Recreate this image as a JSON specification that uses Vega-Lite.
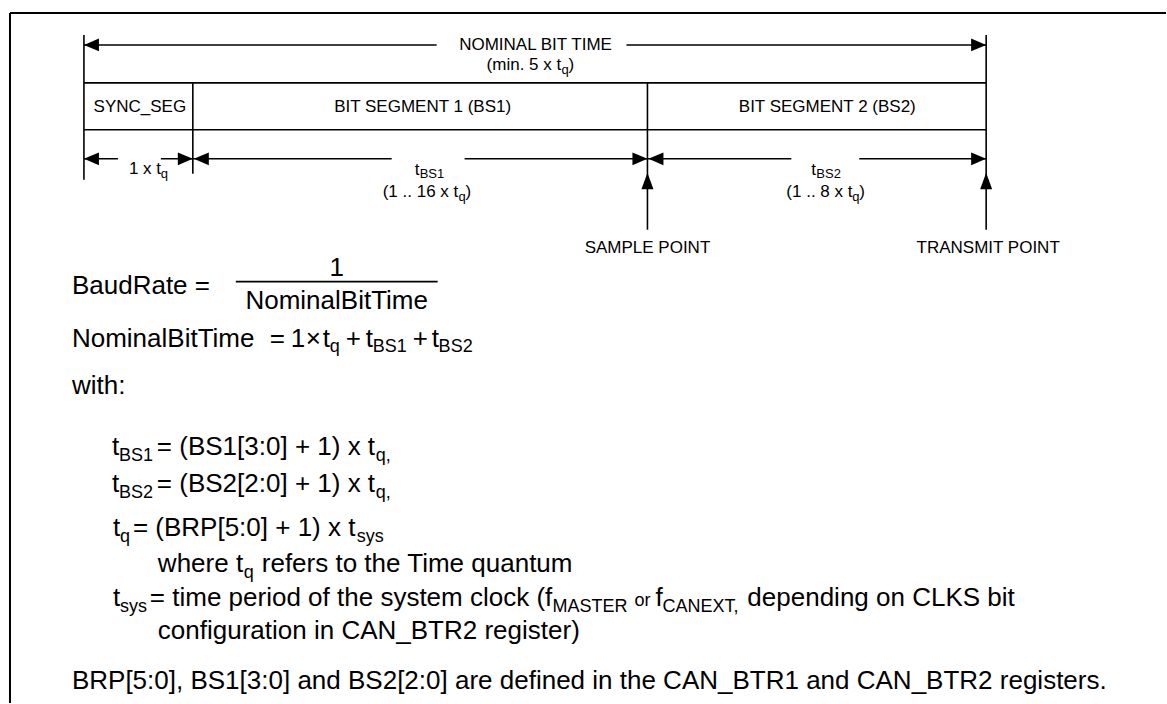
{
  "$schema": "https://vega.github.io/schema/vega-lite/v6.json",
  "width": 1167,
  "height": 704,
  "autosize": {"type": "fit", "contains": "padding"},
  "padding": 0,
  "background": "white",
  "config": {"view": {"stroke": null}},
  "datasets": {
    "frame": [
      {"x": 10, "y": 13, "x2": 1167, "y2": 13},
      {"x": 10, "y": 13, "x2": 10, "y2": 704}
    ],
    "lines": [
      {"x": 84, "y": 45, "x2": 437, "y2": 45},
      {"x": 627, "y": 45, "x2": 987, "y2": 45},
      {"x": 84, "y": 83, "x2": 987, "y2": 83},
      {"x": 84, "y": 130, "x2": 987, "y2": 130},
      {"x": 84, "y": 159, "x2": 118, "y2": 159},
      {"x": 161, "y": 159, "x2": 193, "y2": 159},
      {"x": 193, "y": 159, "x2": 392, "y2": 159},
      {"x": 465, "y": 159, "x2": 648, "y2": 159},
      {"x": 648, "y": 159, "x2": 792, "y2": 159},
      {"x": 860, "y": 159, "x2": 987, "y2": 159},
      {"x": 236, "y": 282, "x2": 438, "y2": 282},
      {"x": 84, "y": 35, "x2": 84, "y2": 180},
      {"x": 193, "y": 83, "x2": 193, "y2": 174},
      {"x": 648, "y": 83, "x2": 648, "y2": 230},
      {"x": 987, "y": 35, "x2": 987, "y2": 230}
    ],
    "arrowL": [
      {"x": 84, "y": 45},
      {"x": 84, "y": 159},
      {"x": 194, "y": 159},
      {"x": 649, "y": 159}
    ],
    "arrowR": [
      {"x": 987, "y": 45},
      {"x": 193, "y": 159},
      {"x": 648, "y": 159},
      {"x": 987, "y": 159}
    ],
    "arrowU": [
      {"x": 648, "y": 173},
      {"x": 987, "y": 173}
    ],
    "textM": [
      {"x": 72, "y": 294, "t": "BaudRate ="},
      {"x": 72, "y": 347, "t": "NominalBitTime"},
      {"x": 270, "y": 347, "t": "="},
      {"x": 291, "y": 347, "t": "1"},
      {"x": 306, "y": 347, "t": "×"},
      {"x": 323, "y": 347, "t": "t"},
      {"x": 346, "y": 347, "t": "+"},
      {"x": 366, "y": 347, "t": "t"},
      {"x": 413, "y": 347, "t": "+"},
      {"x": 432, "y": 347, "t": "t"},
      {"x": 72, "y": 395, "t": "with:"},
      {"x": 112, "y": 456, "t": "t"},
      {"x": 157, "y": 456, "t": "= (BS1[3:0] + 1) x t"},
      {"x": 112, "y": 493, "t": "t"},
      {"x": 157, "y": 493, "t": "= (BS2[2:0] + 1) x t"},
      {"x": 113, "y": 537, "t": "t"},
      {"x": 133, "y": 537, "t": "= (BRP[5:0] + 1) x t"},
      {"x": 158, "y": 573, "t": "where t"},
      {"x": 262, "y": 573, "t": "refers to the Time quantum"},
      {"x": 113, "y": 607, "t": "t"},
      {"x": 150, "y": 607, "t": "= time period of the system clock (f"},
      {"x": 656, "y": 607, "t": "f"},
      {"x": 748, "y": 607, "t": "depending on CLKS bit"},
      {"x": 158, "y": 640, "t": "configuration in CAN_BTR2 register)"},
      {"x": 72, "y": 690, "t": "BRP[5:0], BS1[3:0] and BS2[2:0] are defined in the CAN_BTR1 and CAN_BTR2 registers."}
    ],
    "textMC": [
      {"x": 337, "y": 276, "t": "1"},
      {"x": 337, "y": 309, "t": "NominalBitTime"}
    ],
    "textS": [
      {"x": 330, "y": 353, "t": "q"},
      {"x": 373, "y": 353, "t": "BS1"},
      {"x": 439, "y": 353, "t": "BS2"},
      {"x": 119, "y": 462, "t": "BS1"},
      {"x": 376, "y": 462, "t": "q,"},
      {"x": 119, "y": 499, "t": "BS2"},
      {"x": 376, "y": 499, "t": "q,"},
      {"x": 120, "y": 543, "t": "q"},
      {"x": 357, "y": 543, "t": "sys"},
      {"x": 244, "y": 579, "t": "q"},
      {"x": 120, "y": 613, "t": "sys"},
      {"x": 553, "y": 613, "t": "MASTER"},
      {"x": 635, "y": 607, "t": "or"},
      {"x": 663, "y": 613, "t": "CANEXT,"}
    ],
    "labC": [
      {"x": 536, "y": 50, "t": "NOMINAL BIT TIME"},
      {"x": 140, "y": 112, "t": "SYNC_SEG"},
      {"x": 423, "y": 112, "t": "BIT SEGMENT 1 (BS1)"},
      {"x": 828, "y": 112, "t": "BIT SEGMENT 2 (BS2)"},
      {"x": 648, "y": 253, "t": "SAMPLE POINT"},
      {"x": 989, "y": 253, "t": "TRANSMIT POINT"}
    ],
    "labL": [
      {"x": 487, "y": 70, "t": "(min. 5 x t"},
      {"x": 569, "y": 70, "t": ")"},
      {"x": 129, "y": 174, "t": "1 x t"},
      {"x": 415, "y": 175, "t": "t"},
      {"x": 383, "y": 197, "t": "(1 .. 16 x t"},
      {"x": 466, "y": 197, "t": ")"},
      {"x": 812, "y": 175, "t": "t"},
      {"x": 787, "y": 197, "t": "(1 .. 8 x t"},
      {"x": 860, "y": 197, "t": ")"}
    ],
    "labS": [
      {"x": 562, "y": 74, "t": "q"},
      {"x": 161, "y": 178, "t": "q"},
      {"x": 420, "y": 178, "t": "BS1"},
      {"x": 459, "y": 201, "t": "q"},
      {"x": 817, "y": 178, "t": "BS2"},
      {"x": 853, "y": 201, "t": "q"}
    ]
  },
  "encoding": {
    "x": {"field": "x", "type": "quantitative", "axis": null, "scale": {"domain": [0, 1167], "nice": false, "zero": false}},
    "y": {"field": "y", "type": "quantitative", "axis": null, "scale": {"domain": [0, 704], "nice": false, "zero": false, "reverse": true}}
  },
  "layer": [
    {
      "data": {"name": "frame"},
      "mark": {"type": "rule", "color": "#000000", "strokeWidth": 2},
      "encoding": {"x2": {"field": "x2"}, "y2": {"field": "y2"}}
    },
    {
      "data": {"name": "lines"},
      "mark": {"type": "rule", "color": "#000000", "strokeWidth": 1.6},
      "encoding": {"x2": {"field": "x2"}, "y2": {"field": "y2"}}
    },
    {
      "data": {"name": "arrowL"},
      "mark": {"type": "point", "shape": "M0,0L2,-0.85L2,0.85Z", "size": 225, "filled": true, "color": "#000000", "opacity": 1, "strokeWidth": 0}
    },
    {
      "data": {"name": "arrowR"},
      "mark": {"type": "point", "shape": "M0,0L-2,-0.85L-2,0.85Z", "size": 225, "filled": true, "color": "#000000", "opacity": 1, "strokeWidth": 0}
    },
    {
      "data": {"name": "arrowU"},
      "mark": {"type": "point", "shape": "M0,0L-0.8,2.2L0.8,2.2Z", "size": 225, "filled": true, "color": "#000000", "opacity": 1, "strokeWidth": 0}
    },
    {
      "data": {"name": "textM"},
      "mark": {"type": "text", "align": "left", "baseline": "alphabetic", "font": "Liberation Sans", "fontSize": 26, "color": "#000000"},
      "encoding": {"text": {"field": "t"}}
    },
    {
      "data": {"name": "textMC"},
      "mark": {"type": "text", "align": "center", "baseline": "alphabetic", "font": "Liberation Sans", "fontSize": 26, "color": "#000000"},
      "encoding": {"text": {"field": "t"}}
    },
    {
      "data": {"name": "textS"},
      "mark": {"type": "text", "align": "left", "baseline": "alphabetic", "font": "Liberation Sans", "fontSize": 18, "color": "#000000"},
      "encoding": {"text": {"field": "t"}}
    },
    {
      "data": {"name": "labC"},
      "mark": {"type": "text", "align": "center", "baseline": "alphabetic", "font": "Liberation Sans", "fontSize": 17, "color": "#000000"},
      "encoding": {"text": {"field": "t"}}
    },
    {
      "data": {"name": "labL"},
      "mark": {"type": "text", "align": "left", "baseline": "alphabetic", "font": "Liberation Sans", "fontSize": 17, "color": "#000000"},
      "encoding": {"text": {"field": "t"}}
    },
    {
      "data": {"name": "labS"},
      "mark": {"type": "text", "align": "left", "baseline": "alphabetic", "font": "Liberation Sans", "fontSize": 13, "color": "#000000"},
      "encoding": {"text": {"field": "t"}}
    }
  ]
}
